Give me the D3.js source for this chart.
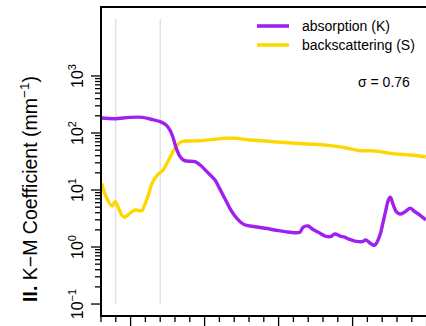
<!DOCTYPE html>
<html>
<head>
<meta charset="utf-8">
<script src="https://cdn.jsdelivr.net/npm/d3@7"></script>
<style>
  html, body { margin: 0; padding: 0; background: #fff; }
  svg { display: block; font-family: "Liberation Sans", Arial, sans-serif; }
</style>
</head>
<body>
<svg id="chart" width="426" height="326"></svg>
<script>
// wavelength (nm) and K-M coefficients (mm^-1)
const absWl = [461, 479, 499, 516, 526, 540, 548, 553, 557, 561, 567, 573, 587, 594, 603,
  614, 620, 627, 634, 641, 648, 655, 668, 682, 695, 709, 722, 729, 733, 740, 746, 756, 763,
  770, 776, 783, 790, 796, 803, 813, 818, 824, 830, 837, 841, 845, 848, 851, 855, 859, 864,
  871, 878, 884, 891, 899];
const absK = [183, 178, 188, 188, 176, 158, 138, 113, 86, 57.5, 38.4, 32.7, 31.4, 27.5, 21,
  15, 10.8, 7.24, 4.83, 3.5, 2.78, 2.43, 2.27, 2.13, 1.99, 1.86, 1.78, 1.83, 2.22, 2.34, 2.05,
  1.74, 1.56, 1.52, 1.69, 1.56, 1.48, 1.36, 1.27, 1.24, 1.33, 1.16, 1.08, 1.63, 2.64, 4.46,
  6.49, 7.45, 5.46, 4.16, 3.79, 4.16, 4.78, 4.16, 3.64, 2.98];

const scatWl = [461, 465, 469, 475, 479, 483, 488, 492, 499, 506, 515, 519, 524, 529, 536,
  544, 549, 556, 563, 569, 580, 594, 614, 627, 641, 661, 682, 702, 722, 749, 770, 790, 810,
  824, 837, 851, 864, 878, 891, 899];
const scatS = [13.1, 8.75, 6.68, 5.24, 6.23, 5.09, 3.64, 3.32, 3.9, 4.46, 4.33, 5.46, 8.17,
  13.1, 18.3, 22.4, 29.4, 44, 61.5, 70.3, 72.4, 73.3, 77.5, 80.7, 80.7, 75.4, 72.4, 68.7,
  65.9, 63.6, 59.9, 55.2, 48.9, 48.9, 47, 44, 42.3, 41.1, 39.5, 37.9];

const markerWl = [480, 540];
const yMajor = [-1, 0, 1, 2, 3];
const legendLabels = ["absorption (K)", "backscattering (S)"];
const sigmaLabel = "\u03C3 = 0.76";

const colAbs = "#a020f0";
const colScat = "#ffd700";

const svg = d3.select("#chart");
const plotLeft = 101, plotTop = 7, plotBottom = 316;

const x = d3.scaleLinear().domain([460, 900]).range([plotLeft, 426.6]);
const y = d3.scaleLog().domain([Math.pow(10, -1.21), Math.pow(10, 4.21)]).range([plotBottom, plotTop]);

svg.append("clipPath").attr("id", "plotclip")
  .append("rect").attr("x", plotLeft).attr("y", plotTop).attr("width", 400).attr("height", plotBottom - plotTop);

// grey marker lines
svg.append("g").selectAll("line")
  .data(markerWl)
  .join("line")
  .attr("x1", d => x(d)).attr("x2", d => x(d))
  .attr("y1", y(1e4)).attr("y2", y(0.1))
  .attr("stroke", "#d4d4d4")
  .attr("stroke-width", 1);

const line = d3.line()
  .x(d => x(d[0]))
  .y(d => y(d[1]))
  .curve(d3.curveCatmullRom.alpha(0.5));

const plot = svg.append("g").attr("clip-path", "url(#plotclip)");
plot.append("path")
  .datum(d3.zip(scatWl, scatS))
  .attr("fill", "none")
  .attr("stroke", colScat)
  .attr("stroke-width", 3.4)
  .attr("stroke-linejoin", "round")
  .attr("d", line);
plot.append("path")
  .datum(d3.zip(absWl, absK))
  .attr("fill", "none")
  .attr("stroke", colAbs)
  .attr("stroke-width", 3.4)
  .attr("stroke-linejoin", "round")
  .attr("d", line);

// frame
svg.append("rect")
  .attr("x", plotLeft).attr("y", plotTop)
  .attr("width", 400).attr("height", plotBottom - plotTop)
  .attr("fill", "none")
  .attr("stroke", "#000")
  .attr("stroke-width", 2);

// y axis ticks
const yMinor = [];
yMajor.slice(0, -1).forEach(e => {
  for (let m = 2; m <= 9; m++) yMinor.push(m * Math.pow(10, e));
});
const yAxis = svg.append("g");
yAxis.selectAll("line.major")
  .data(yMajor)
  .join("line")
  .attr("class", "major")
  .attr("x1", plotLeft - 10).attr("x2", plotLeft)
  .attr("y1", d => y(Math.pow(10, d))).attr("y2", d => y(Math.pow(10, d)))
  .attr("stroke", "#000").attr("stroke-width", 1.3);
yAxis.selectAll("line.minor")
  .data(yMinor)
  .join("line")
  .attr("class", "minor")
  .attr("x1", plotLeft - 6).attr("x2", plotLeft)
  .attr("y1", d => y(d)).attr("y2", d => y(d))
  .attr("stroke", "#000").attr("stroke-width", 1.3);

const yLab = yAxis.selectAll("text")
  .data(yMajor)
  .join("text")
  .attr("transform", d => `translate(83,${y(Math.pow(10, d))}) rotate(-90)`)
  .attr("text-anchor", "middle")
  .attr("font-size", 16);
yLab.append("tspan").text("10");
yLab.append("tspan").attr("font-size", 11).attr("dy", -7).text(d => d < 0 ? "\u2212" + (-d) : d);

// x axis ticks
const xTicks = d3.range(460, 901, 20);
svg.append("g").selectAll("line")
  .data(xTicks)
  .join("line")
  .attr("x1", d => x(d)).attr("x2", d => x(d))
  .attr("y1", plotBottom)
  .attr("y2", d => d % 100 === 0 ? plotBottom + 11 : plotBottom + 6)
  .attr("stroke", "#000").attr("stroke-width", 1.3);

// y title
const title = svg.append("text")
  .attr("transform", "translate(37,189) rotate(-90)")
  .attr("text-anchor", "middle")
  .attr("font-size", 19.5);
title.append("tspan").attr("font-weight", "bold").text("II.");
title.append("tspan").text(" K\u2212M Coefficient (mm");
title.append("tspan").attr("font-size", 13.5).attr("dy", -8).text("\u22121");
title.append("tspan").attr("dy", 8).text(")");

// legend
const legend = svg.append("g");
[colAbs, colScat].forEach((c, i) => {
  const ly = 26 + i * 19;
  legend.append("line")
    .attr("x1", 257).attr("x2", 289)
    .attr("y1", ly).attr("y2", ly)
    .attr("stroke", c).attr("stroke-width", 3.6);
  legend.append("text")
    .attr("x", 302).attr("y", ly + 5)
    .attr("font-size", 14)
    .text(legendLabels[i]);
});
svg.append("text")
  .attr("x", 358).attr("y", 87)
  .attr("font-size", 14)
  .text(sigmaLabel);
</script>
</body>
</html>
